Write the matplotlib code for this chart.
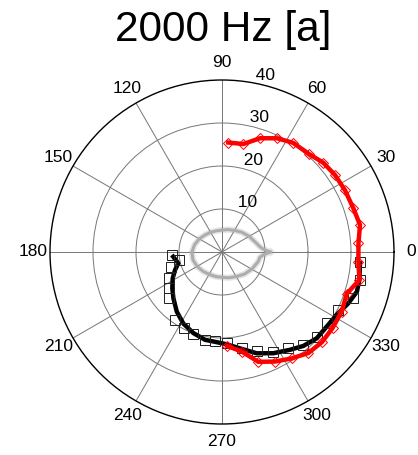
import numpy as np
import matplotlib.pyplot as plt

plt.rcParams['font.family'] = ['Liberation Sans', 'DejaVu Sans']

# red series (diamonds): angle in degrees, radius
red_deg = [86.7, 78.8, 71.5, 64.1, 56.9, 48.2, 41.4, 34.3, 26.7, 18.4, 11.1, 3.6,
           -4.1, -11.5, -18.5, -26.5, -34.5, -42.0, -49.5, -56.7, -64.2, -71.7,
           -78.8, -86.8]
red_r = [25.5, 25.6, 27.9, 29.4, 30.3, 30.5, 31.4, 31.8, 32.0, 32.2, 32.7, 31.8,
         31.8, 32.6, 30.6, 31.1, 31.2, 31.3, 30.9, 29.6, 28.3, 26.9,
         23.6, 21.9]

# black series: markers
blk_deg = [183.8, 190.2, 196.0, 206.3, 214.3, 220.8, 235.4, 243.3, 250.5, 259.2,
           265.7, 272.9, 281.6, 289.2, 297.2, 304.5, 311.2, 318.2, 325.7, 333.5,
           340.6, 348.5, 356.0]
blk_r = [11.6, 10.1, 12.3, 13.7, 14.8, 16.4, 19.1, 19.8, 20.3, 20.8,
         20.7, 21.3, 22.9, 24.5, 26.1, 27.2, 28.7, 29.5, 29.5, 30.2,
         32.4, 32.7, 32.2]

# black series: line
blk_line_deg = [185.5, 194.5, 201.0, 208.1, 216.1, 223.6, 232.8, 241.5, 250.6, 259.1,
                266.6, 272.9, 280.6, 288.9, 296.9, 304.8, 310.9, 317.7, 324.5, 331.2,
                337.9, 343.6, 348.5, 355.3]
blk_line_r = [11.4, 10.5, 11.7, 13.0, 14.3, 15.6, 17.4, 18.9, 20.0, 20.8,
              21.0, 21.5, 22.8, 24.9, 26.4, 27.7, 28.9, 29.8, 29.9, 30.4,
              31.7, 32.7, 32.6, 32.2]

# grey reference pattern near the origin
ref_deg = [0, 4, 8, 15, 30, 45, 60, 75, 90, 105, 120, 135, 150, 165, 180, 195, 210,
           225, 240, 255, 270, 285, 300, 315, 330, 345, 352, 356, 360]
ref_r = [11.2, 9.6, 8.9, 8.2, 7.3, 6.5, 5.8, 5.4, 5.1, 5.1, 5.3, 5.6, 6.1, 6.6, 7.0,
         7.0, 6.7, 6.3, 6.0, 5.9, 5.9, 6.2, 6.6, 7.3, 8.0, 8.7, 8.9, 9.6, 11.2]

theta_ticks = np.arange(0, 360, 30)
theta_labels = [str(t) for t in theta_ticks]
r_ticks = [10, 20, 30, 40]

fig = plt.figure(figsize=(4.18, 4.55), dpi=100)
ax = fig.add_axes([50 / 418, 31 / 455, 344 / 418, 344 / 455], projection='polar')

ax.set_ylim(0, 40)
ax.set_yticks(r_ticks[:-1])
ax.set_yticklabels([])
ax.set_xticks(np.deg2rad(theta_ticks))
ax.set_xticklabels([])
ax.grid(True, color='#767676', lw=0.7, ls='-')
ax.spines['polar'].set_color('k')
ax.spines['polar'].set_linewidth(1.0)

# angle labels just outside the rim
for t, lab in zip(theta_ticks, theta_labels):
    ax.text(np.deg2rad(t), 44, lab, ha='center', va='center', fontsize=12.5,
            clip_on=False)

# radius labels along 82 degrees
for r in r_ticks:
    ax.text(np.deg2rad(82), r + 0.5, '  ' + str(r), ha='left', va='baseline',
            fontsize=12.5, clip_on=False)

# soft grey pattern
ref_t = np.deg2rad(ref_deg)
ax.plot(ref_t, ref_r, color='#999999', lw=4.5, alpha=0.25, zorder=3)
ax.plot(ref_t, ref_r, color='#adadad', lw=2.2, zorder=3)

ax.plot(np.deg2rad(blk_line_deg), blk_line_r, color='k', lw=3.2, zorder=4)
ax.plot(np.deg2rad(blk_deg), blk_r, ls='none', marker='s', ms=6.5,
        mfc='none', mec='#222222', mew=0.7, zorder=5)

ax.plot(np.deg2rad(red_deg), red_r, color='r', lw=3.2, marker='D', ms=5.5,
        mfc='none', mec='r', mew=0.7, zorder=6)

fig.text(223 / 418, 1 - 30 / 455, '2000 Hz [a]', ha='center', va='center',
         fontsize=30.5)

fig.savefig('out.png', dpi=100)
